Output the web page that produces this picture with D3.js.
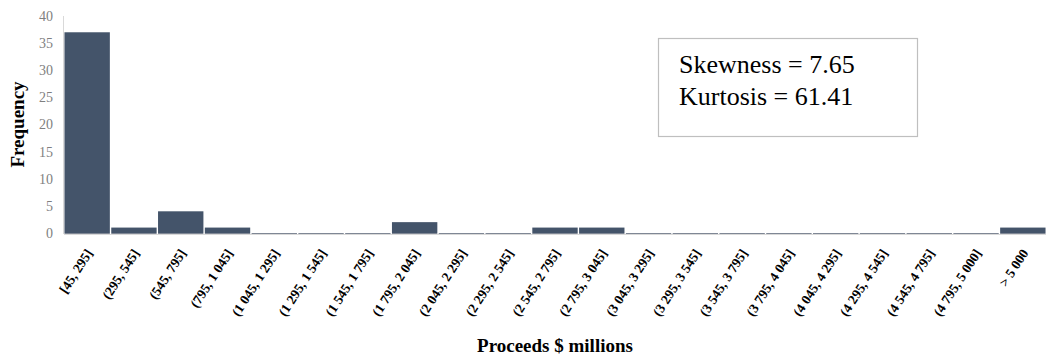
<!DOCTYPE html>
<html>
<head>
<meta charset="utf-8">
<script src="https://cdn.jsdelivr.net/npm/d3@7"></script>
<style>
  body { margin: 0; background: #fff; }
  svg text { font-family: "Liberation Serif", "DejaVu Serif", serif; }
</style>
</head>
<body>
<div id="chart"></div>
<script>
var bins = ['[45, 295]', '(295, 545]', '(545, 795]', '(795, 1 045]', '(1 045, 1 295]',
  '(1 295, 1 545]', '(1 545, 1 795]', '(1 795, 2 045]', '(2 045, 2 295]', '(2 295, 2 545]',
  '(2 545, 2 795]', '(2 795, 3 045]', '(3 045, 3 295]', '(3 295, 3 545]', '(3 545, 3 795]',
  '(3 795, 4 045]', '(4 045, 4 295]', '(4 295, 4 545]', '(4 545, 4 795]', '(4 795, 5 000]', '> 5 000'];
var frequency = [37, 1, 4, 1, 0, 0, 0, 2, 0, 0, 1, 1, 0, 0, 0, 0, 0, 0, 0, 0, 1];
var yTicks = [0, 5, 10, 15, 20, 25, 30, 35, 40];
var statLines = ['Skewness = 7.65', 'Kurtosis = 61.41'];

var width = 1048, height = 360;
var margin = {top: 16, right: 2, bottom: 127, left: 64};

var svg = d3.select('#chart').append('svg')
  .attr('width', width)
  .attr('height', height);

var x = d3.scaleBand()
  .domain(bins)
  .range([margin.left, width - margin.right])
  .paddingInner(0.03)
  .paddingOuter(0.01);

var y = d3.scaleLinear()
  .domain([0, 40])
  .range([height - margin.bottom, margin.top]);

// left axis line
svg.append('line')
  .attr('x1', margin.left - 0.5).attr('x2', margin.left - 0.5)
  .attr('y1', y(40)).attr('y2', y(0) + 1)
  .attr('stroke', '#d9d9d9').attr('stroke-width', 1);

// y tick labels
svg.append('g').selectAll('text')
  .data(yTicks)
  .join('text')
  .attr('x', 53)
  .attr('y', function (d) { return y(d); })
  .attr('dy', '0.35em')
  .attr('text-anchor', 'end')
  .attr('fill', '#7f7f7f')
  .attr('font-size', 14)
  .text(function (d) { return d; });

// bars
svg.append('g').selectAll('rect')
  .data(frequency)
  .join('rect')
  .attr('x', function (d, i) { return x(bins[i]); })
  .attr('y', function (d) { return y(d); })
  .attr('width', x.bandwidth())
  .attr('height', function (d) { return y(0) - y(d); })
  .attr('fill', '#44546a');

// baseline segments under each bar
svg.append('g').selectAll('line')
  .data(bins)
  .join('line')
  .attr('x1', function (d) { return x(d); })
  .attr('x2', function (d) { return x(d) + x.bandwidth(); })
  .attr('y1', y(0) + 0.5).attr('y2', y(0) + 0.5)
  .attr('stroke', '#7f8795').attr('stroke-width', 1);

// x axis line
svg.append('line')
  .attr('x1', margin.left).attr('x2', width - margin.right)
  .attr('y1', y(0) + 1.5).attr('y2', y(0) + 1.5)
  .attr('stroke', '#d9d9d9').attr('stroke-width', 1);

// x tick labels, rotated
svg.append('g').selectAll('text')
  .data(bins)
  .join('text')
  .attr('transform', function (d) {
    return 'translate(' + (x(d) + x.bandwidth() / 2 + 6) + ',' + (y(0) + 20) + ') rotate(-57)';
  })
  .attr('text-anchor', 'end')
  .attr('font-size', 13.5)
  .attr('font-weight', 'bold')
  .attr('fill', '#000')
  .text(function (d) { return d; });

// axis titles
svg.append('text')
  .attr('transform', 'translate(24,' + ((y(0) + y(40)) / 2) + ') rotate(-90)')
  .attr('text-anchor', 'middle')
  .attr('font-size', 19)
  .attr('font-weight', 'bold')
  .text('Frequency');

svg.append('text')
  .attr('x', 555)
  .attr('y', 352)
  .attr('text-anchor', 'middle')
  .attr('font-size', 19)
  .attr('font-weight', 'bold')
  .text('Proceeds $ millions');

// statistics box
var box = svg.append('g');
box.append('rect')
  .attr('x', 658.5).attr('y', 38.5)
  .attr('width', 259).attr('height', 98)
  .attr('fill', '#fff')
  .attr('stroke', '#bfbfbf').attr('stroke-width', 1.2);

box.selectAll('text')
  .data(statLines)
  .join('text')
  .attr('x', 679)
  .attr('y', function (d, i) { return 73 + i * 32; })
  .attr('font-size', 26)
  .attr('fill', '#000')
  .text(function (d) { return d; });
</script>
</body>
</html>
